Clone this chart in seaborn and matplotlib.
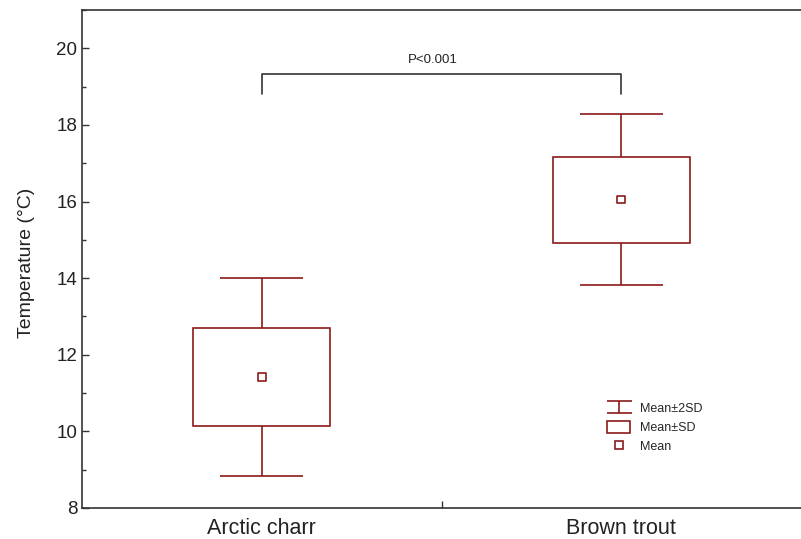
import numpy as np
import pandas as pd
import matplotlib
matplotlib.use("Agg")
import matplotlib.pyplot as plt
import seaborn as sns
from matplotlib.lines import Line2D
from matplotlib.patches import Patch, Rectangle
from matplotlib.path import Path
from matplotlib.ticker import MultipleLocator

# Summary values
species = ["Arctic charr", "Brown trout"]
mean_temp = [11.42, 16.05]
sd_temp = [1.29, 1.12]
p_label = "P<0.001"

col = "#8B1A1A"

df = pd.DataFrame({"species": species, "mean": mean_temp, "sd": sd_temp})
df["pos"] = np.arange(len(df))

sns.set_theme(style="ticks")
plt.rcParams["font.family"] = ["Liberation Sans", "DejaVu Sans"]

fig = plt.figure(figsize=(8.01, 5.39), dpi=100)
ax = fig.add_axes([82 / 801, 31 / 539, 719 / 801, 498 / 539])

box_w = 0.38
cap_w = 0.23
for _, r in df.iterrows():
    x, m, s = r["pos"], r["mean"], r["sd"]
    # whiskers (mean +/- 2SD)
    ax.vlines(x, m + s, m + 2 * s, color=col, lw=1.2)
    ax.vlines(x, m - 2 * s, m - s, color=col, lw=1.2)
    ax.hlines([m - 2 * s, m + 2 * s], x - cap_w / 2, x + cap_w / 2, color=col, lw=1.2)
    # box (mean +/- SD)
    ax.add_patch(Rectangle((x - box_w / 2, m - s), box_w, 2 * s,
                           fill=False, edgecolor=col, lw=1.2))

sns.scatterplot(data=df, x="pos", y="mean", marker="s", s=30,
                facecolor="none", edgecolor=col, linewidth=1.2, ax=ax, zorder=3)

# significance bracket
ax.plot([0, 0, 1, 1], [18.8, 19.32, 19.32, 18.82], color="#333333", lw=1.2)
ax.text(0.475, 19.55, p_label, ha="center", va="bottom", fontsize=9.5, color="#222222")

ax.set_xlim(-0.5, 1.5)
ax.set_ylim(8, 21)
ax.yaxis.set_minor_locator(MultipleLocator(1))
ax.set_yticks([8, 10, 12, 14, 16, 18, 20])
ax.set_xticks([0.5])
ax.set_xticklabels([""])
for i, name in enumerate(species):
    ax.text(i, -0.02, name, transform=ax.get_xaxis_transform(),
            ha="center", va="top", fontsize=15.5, color="#222222")
ax.tick_params(axis="both", direction="in", length=5, width=1, colors="#333333",
               labelsize=13.5, labelcolor="#222222")
ax.tick_params(axis="y", which="minor", direction="in", length=3, width=1, colors="#333333")
ax.set_xlabel("")
ax.set_ylabel("Temperature (°C)", fontsize=14, color="#222222")
ax.yaxis.set_label_coords(-0.065, 0.492)
for sp in ["left", "bottom", "top"]:
    ax.spines[sp].set_color("#333333")
    ax.spines[sp].set_linewidth(1.2)
ax.spines["right"].set_visible(False)

# legend
whisk = Path([(-1, 0.5), (1, 0.5), (0, 0.5), (0, -0.5), (-1, -0.5), (1, -0.5)],
             [Path.MOVETO, Path.LINETO, Path.MOVETO, Path.LINETO, Path.MOVETO, Path.LINETO])
handles = [
    Line2D([], [], marker=whisk, markersize=18, color=col, lw=0, markeredgewidth=1.2),
    Patch(facecolor="none", edgecolor=col, lw=1.2),
    Line2D([], [], marker="s", markersize=5.5, color=col, lw=0,
           markerfacecolor="none", markeredgewidth=1.2),
]
ax.legend(handles, ["Mean±2SD", "Mean±SD", "Mean"], loc="upper left",
          bbox_to_anchor=(0.715, 0.235), frameon=False, fontsize=9,
          handlelength=1.8, handleheight=1.0, labelspacing=0.5, handletextpad=0.8)

fig.savefig("out.png", dpi=100)
